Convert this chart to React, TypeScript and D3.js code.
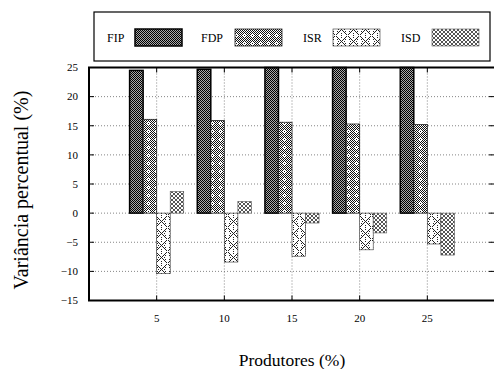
import * as d3 from "d3";
import { useRef, useEffect } from "react";

const categories = [5, 10, 15, 20, 25];
const seriesNames = ["FIP", "FDP", "ISR", "ISD"];
const fip = [24.5, 24.7, 25, 25, 25];
const fdp = [16.1, 15.9, 15.6, 15.3, 15.2];
const isr = [-10.4, -8.4, -7.4, -6.3, -5.3];
const isd = [3.7, 2.0, -1.7, -3.4, -7.2];
const yTicks = [25, 20, 15, 10, 5, 0, -5, -10, -15];

// pixel tiles for the fill patterns (x = dark pixel)
const tiles = {
  FIP: { color: "#000", bg: "#aaa", rows: ["x.", ".x"] },
  FDP: {
    color: "#111",
    bg: "#fff",
    rows: ["x.x.x.x.", ".x.x.x.x", "x.x...x.", ".x..x..x", "x.x...x.", ".x.x.x.x", "x.x.x.x.", ".x.x.x.x"],
  },
  ISR: {
    color: "#222",
    bg: "#fff",
    rows: [
      "x.........x.",
      ".x...x...x..",
      "..x.....x...",
      ".x.x...x.x..",
      "....x.x.....",
      "..x..x..x...",
      "....x.x.....",
      ".x.x...x.x..",
      "..x.....x...",
      ".x...x...x..",
      "x.........x.",
      ".....x......",
    ],
  },
  ISD: { color: "#555", bg: "#fff", rows: ["x..x", ".xx.", ".xx.", "x..x"] },
};

function App() {
  const svgRef = useRef();

  useEffect(() => {
    const WIDTH = 494;
    const HEIGHT = 369;
    const LEFT = 89;
    const RIGHT = 495;
    const TOP = 67.5;
    const BOTTOM = 300.5;
    const FONT = "'Liberation Serif', 'Times New Roman', serif";

    const svg = d3.select(svgRef.current)
      .attr("width", WIDTH)
      .attr("height", HEIGHT)
      .style("position", "absolute")
      .style("left", 0)
      .style("top", 0)
      .style("background", "#fff");
    svg.selectAll("*").remove();

    const x = d3.scaleLinear().domain([0, 30]).range([LEFT, RIGHT]);
    const y = d3.scaleLinear().domain([-15, 25]).range([BOTTOM, TOP]).clamp(true);
    const bw = x(1) - x(0);

    const defs = svg.append("defs");
    Object.entries(tiles).forEach(([name, t]) => {
      const p = defs.append("pattern")
        .attr("id", "pat-" + name)
        .attr("patternUnits", "userSpaceOnUse")
        .attr("width", t.rows[0].length)
        .attr("height", t.rows.length);
      p.append("rect").attr("width", t.rows[0].length).attr("height", t.rows.length).attr("fill", t.bg);
      t.rows.forEach((row, r) => {
        row.split("").forEach((ch, c) => {
          if (ch === "x") {
            p.append("rect").attr("x", c).attr("y", r).attr("width", 1).attr("height", 1)
              .attr("fill", t.color).attr("shape-rendering", "crispEdges");
          }
        });
      });
    });

    const strokes = { FIP: ["#000", 1.5], FDP: ["#222", 0.8], ISR: ["#333", 0.6], ISD: ["#555", 0.6] };

    // grid
    const grid = svg.append("g")
      .attr("stroke", "#666")
      .attr("stroke-width", 0.8)
      .attr("stroke-dasharray", "1,2");
    yTicks.filter(t => t !== 25 && t !== -15).forEach(t => {
      grid.append("line").attr("x1", LEFT).attr("x2", RIGHT).attr("y1", y(t)).attr("y2", y(t));
    });
    categories.forEach(c => {
      grid.append("line").attr("x1", x(c)).attr("x2", x(c)).attr("y1", TOP).attr("y2", BOTTOM);
    });

    // bars
    const allSeries = [fip, fdp, isr, isd];
    allSeries.forEach((vals, k) => {
      const name = seriesNames[k];
      svg.append("g").selectAll("rect")
        .data(vals.map((v, i) => ({ v, c: categories[i] })))
        .join("rect")
        .attr("x", d => x(d.c) + (k - 2) * bw)
        .attr("width", bw)
        .attr("y", d => y(Math.max(d.v, 0)))
        .attr("height", d => y(Math.min(d.v, 0)) - y(Math.max(d.v, 0)))
        .attr("fill", `url(#pat-${name})`)
        .attr("stroke", strokes[name][0])
        .attr("stroke-width", strokes[name][1]);
    });

    // tick marks (mirrored)
    const ticks = svg.append("g").attr("stroke", "#000").attr("stroke-width", 1);
    yTicks.forEach(t => {
      ticks.append("line").attr("x1", LEFT).attr("x2", LEFT + 5).attr("y1", y(t)).attr("y2", y(t));
      ticks.append("line").attr("x1", RIGHT - 6).attr("x2", RIGHT).attr("y1", y(t)).attr("y2", y(t));
    });
    categories.forEach(c => {
      ticks.append("line").attr("x1", x(c)).attr("x2", x(c)).attr("y1", BOTTOM).attr("y2", BOTTOM - 5);
      ticks.append("line").attr("x1", x(c)).attr("x2", x(c)).attr("y1", TOP).attr("y2", TOP + 5);
    });

    // border
    svg.append("rect")
      .attr("x", LEFT).attr("y", TOP)
      .attr("width", RIGHT - LEFT).attr("height", BOTTOM - TOP)
      .attr("fill", "none").attr("stroke", "#000").attr("stroke-width", 2);

    // tick labels
    const fmt = d3.format("d");
    svg.append("g").selectAll("text")
      .data(yTicks)
      .join("text")
      .attr("x", 78)
      .attr("y", d => y(d))
      .attr("dy", "0.35em")
      .attr("text-anchor", "end")
      .attr("font-family", FONT)
      .attr("font-size", 11)
      .text(d => fmt(d));

    svg.append("g").selectAll("text")
      .data(categories)
      .join("text")
      .attr("x", d => x(d))
      .attr("y", 322)
      .attr("text-anchor", "middle")
      .attr("font-family", FONT)
      .attr("font-size", 11)
      .text(d => d);

    // axis titles
    svg.append("text")
      .attr("transform", "translate(28,190) rotate(-90)")
      .attr("text-anchor", "middle")
      .attr("font-family", FONT)
      .attr("font-size", 20)
      .text("Variância percentual (%)");

    svg.append("text")
      .attr("x", 292)
      .attr("y", 366)
      .attr("text-anchor", "middle")
      .attr("font-family", FONT)
      .attr("font-size", 17.5)
      .text("Produtores (%)");

    // legend
    svg.append("rect")
      .attr("x", 94).attr("y", 12).attr("width", 396).attr("height", 49)
      .attr("fill", "#fff").attr("stroke", "#000").attr("stroke-width", 1.2);
    const textX = [107, 201, 303, 401];
    const swatchX = [135, 235, 333, 432];
    seriesNames.forEach((name, k) => {
      svg.append("text")
        .attr("x", textX[k]).attr("y", 42)
        .attr("font-family", FONT)
        .attr("font-size", 12)
        .text(name);
      svg.append("rect")
        .attr("x", swatchX[k]).attr("y", 29).attr("width", 47).attr("height", 17)
        .attr("fill", `url(#pat-${name})`)
        .attr("stroke", strokes[name][0])
        .attr("stroke-width", strokes[name][1]);
    });
  }, []);

  return (
    <div id="chartArea">
      <svg ref={svgRef} />
    </div>
  );
}

export default App;
